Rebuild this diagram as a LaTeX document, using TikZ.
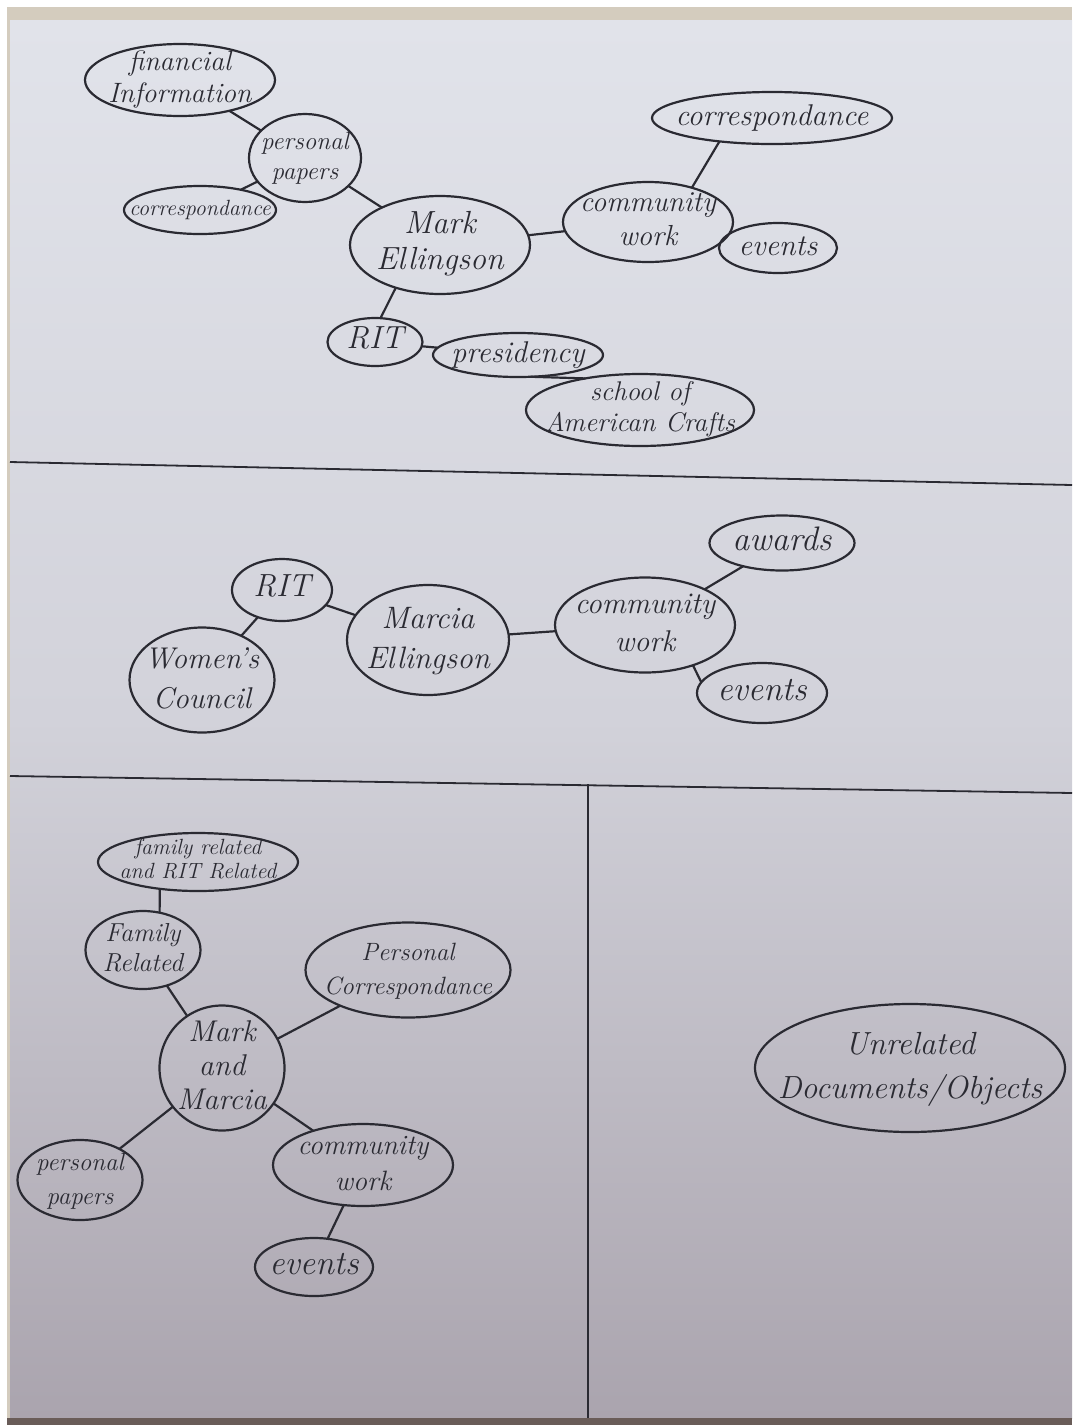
\documentclass[tikz,border=0pt]{standalone}
\usetikzlibrary{shapes.geometric}
\definecolor{ink}{RGB}{42,42,50}
\definecolor{papertop}{RGB}{225,227,234}
\definecolor{papermid}{RGB}{210,210,218}
\definecolor{paperbot}{RGB}{170,164,174}
\definecolor{tablebeige}{RGB}{212,204,190}
\definecolor{tabledark}{RGB}{105,92,88}
\newcommand{\bt}[1]{\makebox[0pt]{\smash{\raisebox{-0.25em}{\begin{tabular}{@{}c@{}}#1\end{tabular}}}}}
\begin{document}
\begin{tikzpicture}[x=0.5pt,y=-0.5pt,
  bubble/.style={ellipse, draw=ink, line width=1.1pt, inner sep=0pt, outer sep=0pt, text=ink},
  sz/.style 2 args={minimum width=#1*0.5pt, minimum height=#2*0.5pt},
  fs/.style 2 args={font=\fontsize{#1pt}{#2pt}\selectfont\itshape},
  link/.style={draw=ink, line width=1.1pt},
  divider/.style={draw=ink, line width=0.9pt}]
\useasboundingbox (0,0) rectangle (1072,1425);
% photo background
\fill[white] (0,0) rectangle (1072,1425);
\fill[tablebeige] (7,7) rectangle (1072,1425);
\shade[top color=papertop, bottom color=paperbot, middle color=papermid] (10,20) rectangle (1072,1418);
\fill[tabledark] (7,1418) rectangle (1072,1425);
% dividers
\draw[divider] (10,462) -- (1072,485);
\draw[divider] (10,776) -- (1072,793);
\draw[divider] (588,784) -- (588,1418);

% ---- top: Mark Ellingson ----
\node[bubble, sz={190}{72}, fs={14}{16}] (fin) at (180,80) {\bt{financial\\Information}};
\node[bubble, sz={112}{88}, fs={12.5}{15}] (pp1) at (305,158) {\bt{personal\\papers}};
\node[bubble, sz={152}{48}, fs={11}{13}] (corL) at (200,210) {\bt{correspondance}};
\node[bubble, sz={180}{98}, fs={16}{18}] (mark) at (440,245) {\bt{Mark\\Ellingson}};
\node[bubble, sz={170}{80}, fs={14.5}{17}] (cw1) at (648,222) {\bt{community\\work}};
\node[bubble, sz={240}{52}, fs={15}{17}] (corR) at (772,118) {\bt{correspondance}};
\node[bubble, sz={118}{50}, fs={15}{17}] (ev1) at (778,248) {\bt{events}};
\node[bubble, sz={95}{48}, fs={16}{18}] (rit1) at (375,342) {\bt{RIT}};
\node[bubble, sz={170}{44}, fs={15}{17}] (pres) at (518,355) {\bt{presidency}};
\node[bubble, sz={228}{72}, fs={13.5}{15.5}] (school) at (640,410) {\bt{school of\\American Crafts}};

\draw[link] (fin) -- (pp1);
\draw[link] (pp1) -- (corL);
\draw[link] (pp1) -- (mark);
\draw[link] (mark) -- (cw1);
\draw[link] (cw1.38) -- (corR.204);
\draw[link] (cw1) -- (ev1);
\draw[link] (mark.224) -- (rit1.77);
\draw[link] (rit1) -- (pres);
\draw[link] (pres.-60) -- (school.150);

% ---- middle: Marcia Ellingson ----
\node[bubble, sz={100}{62}, fs={16}{18}] (rit2) at (282,590) {\bt{RIT}};
\node[bubble, sz={145}{105}, fs={15}{20}] (women) at (202,680) {\bt{Women's\\Council}};
\node[bubble, sz={162}{110}, fs={15.5}{20}] (marcia) at (428,640) {\bt{Marcia\\Ellingson}};
\node[bubble, sz={180}{95}, fs={15}{19}] (cw2) at (645,625) {\bt{community\\work}};
\node[bubble, sz={145}{55}, fs={17}{19}] (awards) at (782,543) {\bt{awards}};
\node[bubble, sz={130}{60}, fs={17}{19}] (ev2) at (762,693) {\bt{events}};

\draw[link] (rit2) -- (women);
\draw[link] (rit2) -- (marcia);
\draw[link] (marcia) -- (cw2);
\draw[link] (cw2) -- (awards);
\draw[link] (cw2.-40) -- (ev2.170);

% ---- bottom left: Mark and Marcia ----
\node[bubble, sz={200}{58}, fs={11}{12}] (famrit) at (198,862) {\bt{family related\\and RIT Related}};
\node[bubble, sz={115}{78}, fs={13}{15}] (fam) at (143,950) {\bt{Family\\Related}};
\node[bubble, sz={205}{95}, fs={12.5}{17}] (pcorr) at (408,970) {\bt{Personal\\Correspondance}};
\node[bubble, sz={125}{125}, fs={15}{17}] (mm) at (222,1068) {\bt{Mark\\and\\Marcia}};
\node[bubble, sz={125}{80}, fs={12.5}{17}] (pp2) at (80,1180) {\bt{personal\\papers}};
\node[bubble, sz={180}{82}, fs={14}{18}] (cw3) at (363,1165) {\bt{community\\work}};
\node[bubble, sz={118}{58}, fs={17}{19}] (ev3) at (314,1267) {\bt{events}};

\draw[link] (famrit.215) -- (fam.66);
\draw[link] (fam) -- (mm);
\draw[link] (mm) -- (pcorr);
\draw[link] (mm) -- (pp2);
\draw[link] (mm) -- (cw3);
\draw[link] (cw3) -- (ev3);

% ---- bottom right ----
\node[bubble, sz={310}{128}, fs={16}{22}] (unrel) at (910,1068) {\bt{Unrelated\\Documents/Objects}};
\end{tikzpicture}
\end{document}
